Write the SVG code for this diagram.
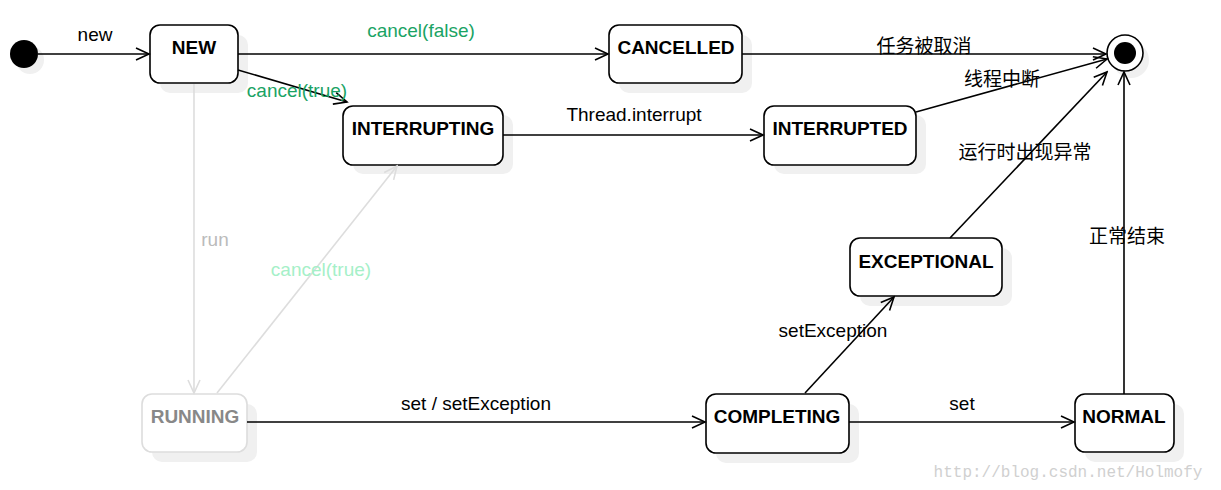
<svg xmlns="http://www.w3.org/2000/svg" width="1221" height="490" viewBox="0 0 1221 490">
<defs>
<style>
.sh{fill:#f0f0f0;stroke:none}
.st{fill:#fff;stroke:#000;stroke-width:1.6}
.stg{fill:#fff;stroke:#ddd;stroke-width:1.6}
.nl{font-family:"Liberation Sans",Arial,sans-serif;font-size:19px;font-weight:bold;fill:#000;text-anchor:middle}
.lb{font-family:"Liberation Sans","Noto Sans CJK SC",sans-serif;font-size:19px;fill:#000;text-anchor:middle}
.ln{fill:none;stroke:#000;stroke-width:1.6}
.lg{fill:none;stroke:#ddd;stroke-width:1.6}
.lb.grn{fill:#1aa364}
.lb.gry{fill:#bbb}
.lb.lgr{fill:#a5f0c8}
.nl.gry{fill:#888}
</style>
<marker id="a" markerUnits="userSpaceOnUse" markerWidth="16" markerHeight="16" refX="14" refY="7" orient="auto">
<path d="M1,1 L14,7 L1,13" fill="none" stroke="#000" stroke-width="1.6"/>
</marker>
<marker id="ag" markerUnits="userSpaceOnUse" markerWidth="16" markerHeight="16" refX="14" refY="7" orient="auto">
<path d="M1,1 L14,7 L1,13" fill="none" stroke="#ddd" stroke-width="1.6"/>
</marker>
</defs>
<rect width="1221" height="490" fill="#fff"/>

<g id="start">
<circle class="sh" cx="30" cy="60" r="14"/>
<circle cx="24" cy="54" r="14" fill="#000"/>
</g>
<g id="end">
<circle class="sh" cx="1131" cy="60" r="18"/>
<circle cx="1125" cy="53" r="18" fill="#fff" stroke="#000" stroke-width="1.6"/>
<circle cx="1125" cy="53" r="11" fill="#000"/>
</g>

<g id="NEW">
<rect class="sh" x="160" y="35" width="88" height="58" rx="10"/>
<rect class="st" x="150" y="25" width="88" height="58" rx="10"/>
<text class="nl" x="194" y="54">NEW</text>
</g>
<g id="CANCELLED">
<rect class="sh" x="619" y="35" width="133" height="58" rx="10"/>
<rect class="st" x="609" y="25" width="133" height="58" rx="10"/>
<text class="nl" x="676" y="54">CANCELLED</text>
</g>
<g id="INTERRUPTING">
<rect class="sh" x="353" y="115" width="160" height="59" rx="10"/>
<rect class="st" x="343" y="106" width="160" height="59" rx="10"/>
<text class="nl" x="423" y="135">INTERRUPTING</text>
</g>
<g id="INTERRUPTED">
<rect class="sh" x="774" y="115" width="152" height="59" rx="10"/>
<rect class="st" x="764" y="106" width="152" height="59" rx="10"/>
<text class="nl" x="840" y="135">INTERRUPTED</text>
</g>
<g id="EXCEPTIONAL">
<rect class="sh" x="860" y="248" width="152" height="58" rx="10"/>
<rect class="st" x="850" y="238" width="152" height="58" rx="10"/>
<text class="nl" x="926" y="268">EXCEPTIONAL</text>
</g>
<g id="RUNNING">
<rect class="sh" x="152" y="404" width="105" height="58" rx="10"/>
<rect class="stg" x="142" y="394" width="105" height="58" rx="10"/>
<text class="nl gry" x="195" y="423">RUNNING</text>
</g>
<g id="COMPLETING">
<rect class="sh" x="716" y="404" width="143" height="59" rx="10"/>
<rect class="st" x="706" y="394" width="143" height="59" rx="10"/>
<text class="nl" x="777" y="423">COMPLETING</text>
</g>
<g id="NORMAL">
<rect class="sh" x="1085" y="404" width="99" height="58" rx="10"/>
<rect class="st" x="1075" y="394" width="99" height="58" rx="10"/>
<text class="nl" x="1124" y="423">NORMAL</text>
</g>

<g id="connectors">
<line class="ln" x1="38" y1="54" x2="149" y2="54" marker-end="url(#a)"/>
<text class="lb" x="95" y="41">new</text>
<line class="ln" x1="238" y1="54" x2="608" y2="54" marker-end="url(#a)"/>
<text class="lb grn" x="421" y="37">cancel(false)</text>
<line class="ln" x1="238" y1="70" x2="347" y2="102" marker-end="url(#a)"/>
<text class="lb grn" x="297" y="97">cancel(true)</text>
<line class="ln" x1="742" y1="54" x2="1106" y2="54" marker-end="url(#a)"/>
<text class="lb" x="924" y="53">任务被取消</text>
<line class="ln" x1="916" y1="112" x2="1107" y2="59" marker-end="url(#a)"/>
<text class="lb" x="1002" y="86">线程中断</text>
<line class="ln" x1="503" y1="135" x2="763" y2="135" marker-end="url(#a)"/>
<text class="lb" x="634" y="121">Thread.interrupt</text>
<line class="ln" x1="950" y1="238" x2="1107" y2="72" marker-end="url(#a)"/>
<text class="lb" x="1025" y="159">运行时出现异常</text>
<line class="ln" x1="1124" y1="394" x2="1124" y2="72" marker-end="url(#a)"/>
<text class="lb" x="1127" y="243">正常结束</text>
<line class="lg" x1="194" y1="84" x2="194" y2="393" marker-end="url(#ag)"/>
<text class="lb gry" x="215" y="246">run</text>
<line class="lg" x1="217" y1="393" x2="397" y2="166" marker-end="url(#ag)"/>
<text class="lb lgr" x="321" y="276">cancel(true)</text>
<line class="ln" x1="247" y1="422" x2="705" y2="422" marker-end="url(#a)"/>
<text class="lb" x="476" y="410">set / setException</text>
<line class="ln" x1="805" y1="393" x2="894" y2="297" marker-end="url(#a)"/>
<text class="lb" x="833" y="337">setException</text>
<line class="ln" x1="849" y1="422" x2="1074" y2="422" marker-end="url(#a)"/>
<text class="lb" x="962" y="410">set</text>
</g>

<text x="1068" y="477" font-family="'Liberation Mono',monospace" font-size="16" fill="#d0d0d0" text-anchor="middle">http://blog.csdn.net/Holmofy</text>
</svg>
